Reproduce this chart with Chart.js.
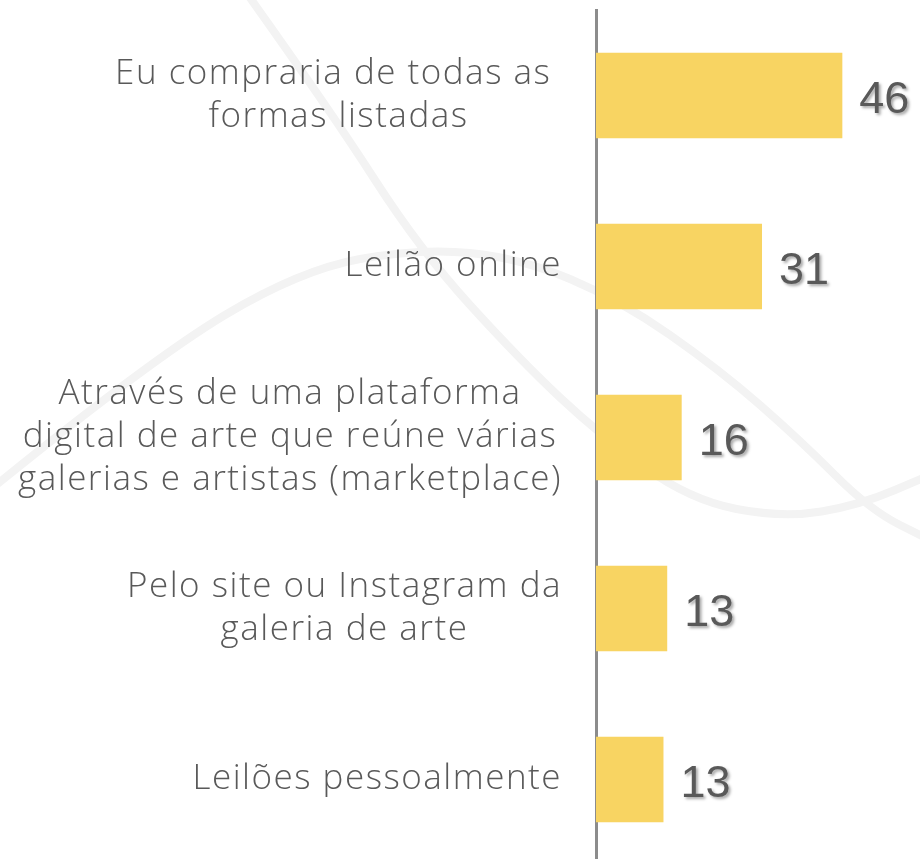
<!DOCTYPE html>
<html lang="pt">
<head>
<meta charset="utf-8">
<title>Formas de compra</title>
<script src="https://cdn.jsdelivr.net/npm/chart.js@4.4.1/dist/chart.umd.min.js"></script>
<style>
    html, body { margin: 0; padding: 0; background: #ffffff; overflow: hidden; }
    #grafico { display: block; }
</style>
</head>
<body>
<canvas id="grafico" width="920" height="865"></canvas>
<script>
// Categorias (cada linha do rótulo em separado)
const categorias = [
    ['Eu compraria de todas as ', 'formas listadas'],
    ['Leilão online'],
    ['Através de uma plataforma', 'digital de arte que reúne várias', 'galerias e artistas (marketplace)'],
    ['Pelo site ou Instagram da', 'galeria de arte'],
    ['Leilões pessoalmente']
];

// Valores (%)
const valores = [46, 31, 16, 13.3, 12.6];

// Curvas decorativas do fundo (não são dados)
const curvasFundo = [
    [[248, -5], [330, 110], [420, 250], [520, 360], [600, 435], [690, 500], [783, 518], [860, 505], [930, 475]],
    [[-10, 490], [150, 360], [300, 270], [420, 248], [520, 258], [620, 300], [720, 370], [800, 440], [870, 510], [930, 540]]
];

const COR_BARRA = '#F8D462';
const COR_TEXTO = '#595959';
const COR_EIXO = '#8c8c8c';

// Desenha as curvas claras do fundo
const fundoPlugin = {
    id: 'fundo',
    beforeDraw(chart) {
        const ctx = chart.ctx;
        ctx.save();
        ctx.strokeStyle = '#f3f3f3';
        ctx.lineWidth = 8;
        ctx.lineCap = 'round';
        curvasFundo.forEach(pts => {
            ctx.beginPath();
            ctx.moveTo(pts[0][0], pts[0][1]);
            for (let i = 1; i < pts.length - 1; i++) {
                const mx = (pts[i][0] + pts[i + 1][0]) / 2;
                const my = (pts[i][1] + pts[i + 1][1]) / 2;
                ctx.quadraticCurveTo(pts[i][0], pts[i][1], mx, my);
            }
            const ult = pts[pts.length - 1];
            ctx.lineTo(ult[0], ult[1]);
            ctx.stroke();
        });
        ctx.restore();
    }
};

// Rótulos das categorias: bloco alinhado à direita, linhas centradas
const rotulosPlugin = {
    id: 'rotulos',
    afterDraw(chart) {
        const ctx = chart.ctx;
        const escalaY = chart.scales.y;
        const direita = escalaY.right - 34;
        const alturaLinha = 43;
        ctx.save();
        ctx.font = '300 35px "Open Sans", Lato, sans-serif';
        ctx.letterSpacing = '1.5px';
        ctx.fillStyle = COR_TEXTO;
        ctx.textAlign = 'center';
        ctx.textBaseline = 'middle';
        categorias.forEach((linhas, i) => {
            const y = escalaY.getPixelForValue(i);
            const largura = Math.max(...linhas.map(l => ctx.measureText(l).width));
            const cx = direita - largura / 2;
            const topo = y - (linhas.length - 1) * alturaLinha / 2;
            linhas.forEach((l, j) => ctx.fillText(l, cx, topo + j * alturaLinha));
        });
        ctx.restore();
    }
};

// Valores ao lado das barras
const valoresPlugin = {
    id: 'valores',
    afterDatasetsDraw(chart) {
        const ctx = chart.ctx;
        const barras = chart.getDatasetMeta(0).data;
        ctx.save();
        ctx.font = '45px "Liberation Sans", Arial, sans-serif';
        ctx.fillStyle = COR_TEXTO;
        ctx.textAlign = 'left';
        ctx.textBaseline = 'alphabetic';
        ctx.shadowColor = 'rgba(0,0,0,0.35)';
        ctx.shadowOffsetX = 2;
        ctx.shadowOffsetY = 2;
        ctx.shadowBlur = 3;
        barras.forEach((barra, i) => {
            ctx.fillText(String(Math.round(valores[i])), barra.x + 17, barra.y + 17);
        });
        ctx.restore();
    }
};

new Chart(document.getElementById('grafico').getContext('2d'), {
    type: 'bar',
    data: {
        labels: categorias,
        datasets: [{
            data: valores,
            backgroundColor: COR_BARRA,
            borderWidth: 0,
            categoryPercentage: 0.5,
            barPercentage: 1.0
        }]
    },
    options: {
        indexAxis: 'y',
        responsive: false,
        animation: false,
        layout: { padding: { top: 10, right: 0, bottom: 0, left: 0 } },
        plugins: {
            legend: { display: false },
            tooltip: { enabled: false }
        },
        scales: {
            x: {
                display: false,
                min: 0,
                max: 60.5
            },
            y: {
                grid: { display: false, drawTicks: false },
                border: { display: true, color: COR_EIXO, width: 3 },
                ticks: { display: false },
                afterFit(scale) { scale.width = 596; }
            }
        }
    },
    plugins: [fundoPlugin, rotulosPlugin, valoresPlugin]
});
</script>
</body>
</html>
